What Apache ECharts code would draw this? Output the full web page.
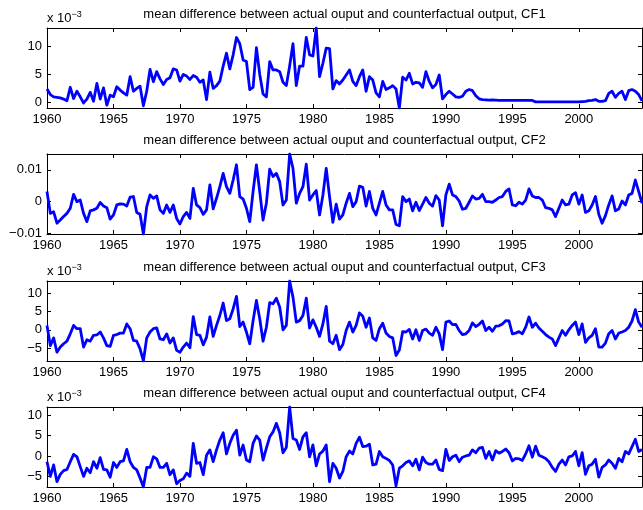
<!DOCTYPE html>
<html>
<head>
<meta charset="utf-8">
<script src="https://cdn.jsdelivr.net/npm/echarts@6/dist/echarts.min.js"></script>
<style>
  html, body { margin: 0; padding: 0; background: #fff; }
  #chart { width: 643px; height: 510px; }
</style>
</head>
<body>
<div id="chart"></div>
<script>
// quarterly series, 1960Q1 .. 2004Q4, values in units of 1e-3
const startYear = 1960;

const cf1 = [
  2.4, 1.4, 1.0, 0.9,   0.8, 0.6, 0.3, 2.7,   0.7, 2.0, 1.0, -0.1,  0.6, 1.8, 0.2, 3.4,
  0.6, 2.6, -0.5, 1.3,  1.0, 2.8, 2.2, 1.7,   1.3, 4.6, 2.0, 2.5,   2.9, -0.6, 2.0, 5.9,
  3.7, 5.5, 4.2, 3.2,   4.1, 4.4, 6.0, 5.8,   3.8, 5.0, 4.7, 4.1,   4.8, 4.5, 3.6, 4.0,
  0.5, 5.4, 2.5, 3.0,   3.8, 6.5, 8.8, 6.0,   8.5, 11.6, 10.5, 7.6, 7.3, 2.3, 2.7, 9.8,
  5.0, 1.5, 1.0, 7.3,   5.8, 5.8, 5.5, 3.6,   3.0, 6.5, 10.5, 3.0,  6.5, 6.5, 11.6, 8.5,
  8.3, 13.3, 4.6, 7.0,  9.7, 9.6, 2.4, 3.9,   3.3, 4.0, 4.9, 5.8,   3.75, 3.0, 4.6, 5.8,
  2.0, 4.6, 4.0, 1.7,   1.0, 3.75, 2.3, 2.6,  3.0, 2.4, -1.0, 4.5,  4.0, 5.2, 3.3, 3.6,
  3.5, 2.7, 5.5, 3.75,  2.6, 3.2, 4.9, 0.65,  1.4, 2.0, 1.5, 1.0,   0.9, 1.1, 2.0, 2.3,
  2.1, 1.2, 0.65, 0.5,  0.45, 0.4, 0.45, 0.4, 0.35, 0.35, 0.35, 0.35, 0.35, 0.35, 0.35, 0.35,
  0.35, 0.35, 0.35, 0.1, 0.1, 0.1, 0.1, 0.1, 0.1, 0.1, 0.1, 0.1,   0.1, 0.1, 0.1, 0.1,
  0.1, 0.15, 0.2, 0.3,  0.35, 0.5, 0.2, 0.2,  0.3, 1.6, 2.0, 0.9,   1.6, 2.0, 0.5, 2.1,
  2.3, 2.0, 1.4, 0.3
];

const cf2 = [
  3.2, -3.7, -3.2, -6.8,  -5.8, -4.7, -3.7, -2.1,  2.3, 0, 0.5, -3.7,     -6.3, -2.9, -2.6, -2.1,
  -0.3, -1.4, -1.9, -5.5, -4.2, -1.05, -0.7, -0.8, -1.4, 1.4, 1.6, -3.4,   -4.0, -10.2, -1.6, 2.1,
  1.05, 1.8, -2.6, -3.7,  -1.05, -3.4, -1.05, -5.3, -7.05, -4.7, -3.4, -5.3, 4.2, -1.05, -1.9, -4.0,
  -2.6, 5.3, -2.3, 1.05,  4.7, 8.9, 4.7, 2.6,      6.8, 11.6, 1.6, 0.8,    -2.1, -6.3, 3.2, 11.6,
  3.2, -5.8, -0.5, 10.2,  7.9, 8.9, 6.3, -1.05,    0.5, 15.0, 10.5, -0.5,  2.6, 4.7, 11.8, 0.5,
  2.1, 3.5, -4.2, 2.0,    10.5, 1.6, -6.5, -0.8,   -5.5, -4.2, -0.5, 2.6,  -1.6, 0, 4.9, 4.5,
  -1.4, 3.2, -2.1, -4.2,  -0.5, 3.2, -1.05, -2.6,  -2.6, -7.2, -7.6, 1.6,  0, 0.8, -2.9, -0.2,
  -2.8, -0.8, 1.3, -0.5,  -1.4, 1.9, 0.5, -7.6,    2.1, 5.5, 2.1, 1.6,     0.2, -2.4, -2.1, -0.2,
  1.8, 0.8, 1.05, 2.3,    0, 0, -0.2, 0.5,         1.3, 1.6, 3.2, 4.0,     -1.05, -1.3, -0.2, -0.8,
  0.5, 4.0, 1.8, 1.3,     1.3, 0.5, -1.9, -2.1,    -2.6, -4.7, -2.1, 0.5,  -1.05, -0.8, 2.1, 2.8,
  -0.8, 2.1, -3.4, -2.9,  -1.05, 1.6, -4.0, -6.8,  -4.4, -1.05, 1.8, -2.9, -2.3, 0.2, -1.05, 2.1,
  2.6, 6.8, 3.2, -0.5
];

const cf3 = [
  1.2, -4.3, -2.2, -6.1,  -4.7, -3.8, -3.1, -1.1,  1.2, 0.3, 0.3, -4.7,   -2.7, -3.1, -1.5, -1.4,
  -0.6, -2.2, -4.3, -4.5, -1.5, -1.3, -0.9, -0.9,  1.6, 0.3, -2.9, -3.1,  -5.2, -8.5, -2.2, -0.6,
  0.3, 0.5, -2.5, -2.7,   -1.1, -3.6, -2.2, -5.6,  -6.1, -4.7, -3.6, -4.9, 3.6, -1.3, -1.5, -4.1,
  -2.0, 3.5, -1.8, 1.2,   3.9, 7.3, 2.5, 3.0,      5.7, 9.1, 0.9, 2.1,    -0.6, -3.8, 2.5, 8.0,
  3.0, -3.1, 0.7, 7.4,    7.1, 8.6, 6.2, 0,        1.2, 13.3, 8.9, 2.1,   2.5, 3.9, 8.6, 0.5,
  2.7, 0.7, -1.8, 1.6,    6.4, -3.1, -3.8, -1.5,   -5.4, -4.0, -0.2, 2.1, -0.6, 1.2, 4.6, 3.7,
  0.7, 3.2, -2.2, -2.9,   0.3, 1.8, -0.9, -1.8,    -2.2, -7.0, -5.5, -0.5, -0.6, 0.1, -2.5, 0,
  -2.9, -0.2, 0.2, -0.9,  -1.5, 0.7, -1.1, -5.4,   2.1, 2.4, 1.4, 1.5,    -0.2, -1.3, -1.1, -0.2,
  1.9, 0.9, 1.5, 2.4,     -0.2, 0.7, -0.4, 1.0,    1.1, 1.6, 2.5, 2.4,    -1.1, -0.9, -0.5, -1.1,
  0.7, 3.5, 0.7, 1.8,     0.5, -0.4, -1.3, -2.0,   -2.5, -4.3, -2.2, -0.2, -1.5, 0, 1.2, 2.1,
  -1.3, 1.6, -3.4, -2.2,  -1.5, 0.3, -4.7, -4.7,   -3.6, -1.1, -0.2, -2.5, -0.9, -0.6, -0.2, 0.7,
  2.4, 5.5, 2.1, 0.7
];

const cf4 = [
  -1.4, -5.0, -2.2, -6.3, -4.5, -3.6, -3.3, -1.4,  0.4, -0.2, -2.6, -5.0,  -3.0, -4.1, -1.4, -3.0,
  -0.4, -3.3, -3.4, -5.2, -1.6, -2.8, -1.4, -1.2,  1.6, -1.4, -2.8, -3.4,  -5.4, -7.6, -2.8, -2.8,
  -0.2, -0.7, -2.8, -2.8, -1.8, -4.6, -3.4, -6.8,  -6.0, -5.6, -4.2, -5.0, 3.1, -1.8, -1.6, -4.6,
  0.2, 1.5, -1.4, 1.5,    3.9, 5.7, 0.5, 3.1,      5.1, 6.3, 0.2, 2.7,     -1.0, -1.4, 3.1, 4.9,
  3.9, -1.0, 1.9, 4.7,    5.9, 8.0, 5.7, 0.8,      2.1, 12.0, 4.3, 3.9,    1.6, 4.7, 5.7, -0.2,
  2.7, -2.4, 0.5, 1.2,    2.7, -6.3, -1.8, -3.0,   -5.4, -3.8, -0.2, 1.2,  0.5, 3.1, 4.6, 2.3,
  2.4, 2.9, -2.2, -2.0,   1.1, -0.2, -0.6, -1.1,   -2.2, -7.3, -3.0, -2.4, -1.6, -1.2, -2.4, -0.8,
  -3.4, -0.3, -1.6, -2.0, -2.0, -1.0, -3.3, -3.6,  1.6, -1.1, -0.2, 0.2,   -1.4, -0.3, 0, 0.2,
  1.5, 0.8, 1.9, 2.1,     -0.6, 1.1, -1.0, 1.3,    0.7, 1.1, 1.7, 0.8,     -1.2, -0.6, -0.7, -1.1,
  0.5, 2.5, -0.3, 2.4,    0.2, -0.2, -0.6, -1.4,   -2.8, -3.8, -2.0, -1.0, -2.2, -0.2, 0, 1.1,
  -2.4, 0.8, -4.5, -2.4,  -2.0, -0.8, -5.2, -2.8,  -2.2, -1.0, -1.8, -3.0, -0.6, -1.4, 1.1, 0.5,
  2.3, 4.1, 1.1, 1.6
];

const xTicks = [1960, 1965, 1970, 1975, 1980, 1985, 1990, 1995, 2000];
const yTicks = [
  [0, 5, 10],
  [-10, 0, 10],
  [-5, 0, 5, 10],
  [-5, 0, 5, 10]
];
const titles = ['CF1', 'CF2', 'CF3', 'CF4'].map(
  s => 'mean difference between actual ouput and counterfactual output, ' + s
);
const showExponent = [true, false, true, true];
const series = [cf1, cf2, cf3, cf4];

const FONT = '"Liberation Sans", Arial, Helvetica, sans-serif';
const gridTops = [28, 154, 281, 407];
const gridH = 80;
const gridLeft = 47;
const gridW = 595;

const fmtY = (k) => (v) => {
  const val = k === 1 ? v / 1000 : v;
  return String(val).replace('-', '\u2212');
};

const grids = [], xAxes = [], yAxes = [], seriesOpts = [], graphics = [];
series.forEach((vals, k) => {
  grids.push({ left: gridLeft, top: gridTops[k], width: gridW, height: gridH });
  const lo = Math.min(...vals), hi = Math.max(...vals);
  const xMax = startYear + (vals.length - 1) / 4;
  const tick = { show: true, inside: true, length: 4, lineStyle: { color: '#000' } };
  const line = { show: true, onZero: false, lineStyle: { color: '#000', width: 1 } };
  xAxes.push({
    type: 'value', gridIndex: k, position: 'bottom', min: startYear, max: xMax,
    axisLine: line, splitLine: { show: false },
    axisTick: Object.assign({ customValues: xTicks }, tick),
    axisLabel: { customValues: xTicks, formatter: v => String(v), color: '#000', fontSize: 13, fontFamily: FONT, margin: 5 }
  });
  xAxes.push({
    type: 'value', gridIndex: k, position: 'top', min: startYear, max: xMax,
    axisLine: line, splitLine: { show: false },
    axisTick: Object.assign({ customValues: xTicks }, tick),
    axisLabel: { show: false }
  });
  yAxes.push({
    type: 'value', gridIndex: k, position: 'left', min: lo, max: hi,
    axisLine: line, splitLine: { show: false },
    axisTick: Object.assign({ customValues: yTicks[k] }, tick),
    axisLabel: { customValues: yTicks[k], formatter: fmtY(k), color: '#000', fontSize: 13, fontFamily: FONT, margin: 5 }
  });
  yAxes.push({
    type: 'value', gridIndex: k, position: 'right', min: lo, max: hi,
    axisLine: line, splitLine: { show: false },
    axisTick: Object.assign({ customValues: yTicks[k] }, tick),
    axisLabel: { show: false }
  });
  seriesOpts.push({
    type: 'line', xAxisIndex: 2 * k, yAxisIndex: 2 * k,
    data: vals.map((v, i) => [startYear + i / 4, v]),
    showSymbol: false, symbol: 'none',
    lineStyle: { color: '#0000ff', width: 2.8, join: 'round' },
    clip: true
  });
  graphics.push({
    type: 'text', x: gridLeft + gridW / 2, y: gridTops[k] - 14,
    style: { text: titles[k], fill: '#000', font: '13px ' + FONT, align: 'center', verticalAlign: 'middle' }
  });
  if (showExponent[k]) {
    graphics.push({
      type: 'text', x: gridLeft, y: gridTops[k] - 18,
      style: {
        text: 'x 10{sup|\u22123}', fill: '#000', font: '13px ' + FONT,
        rich: { sup: { fontSize: 9, fontFamily: FONT, fill: '#000', verticalAlign: 'top', padding: [0, 0, 7, 0] } }
      }
    });
  }
});

const chart = echarts.init(document.getElementById('chart'));
chart.setOption({
  animation: false,
  backgroundColor: '#fff',
  grid: grids,
  xAxis: xAxes,
  yAxis: yAxes,
  series: seriesOpts,
  graphic: graphics
});
</script>
</body>
</html>
